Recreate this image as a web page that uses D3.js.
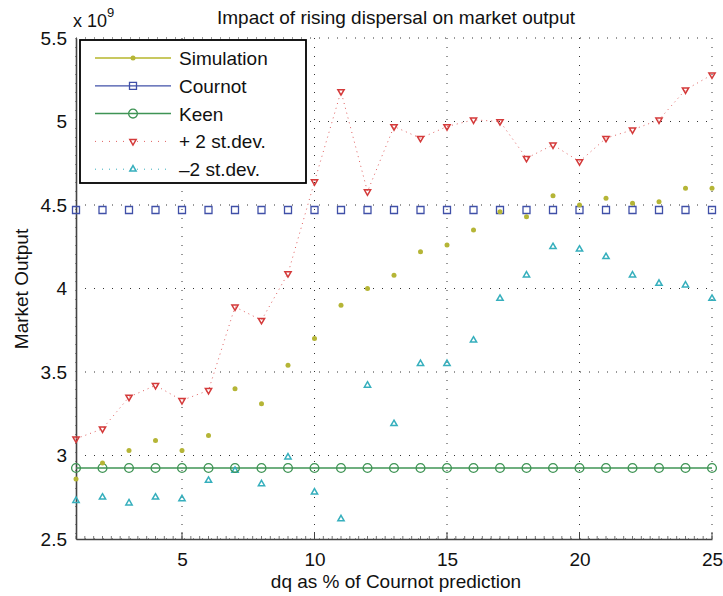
<!DOCTYPE html>
<html>
<head>
<meta charset="utf-8">
<script src="https://cdn.jsdelivr.net/npm/d3@7"></script>
<style>
  body { margin: 0; background: #fff; }
  svg text { font-family: "Liberation Sans", Arial, sans-serif; fill: #111; }
  .grid line { stroke: #333; stroke-width: 1; stroke-dasharray: 1 8; }
</style>
</head>
<body>
<svg id="chart" width="723" height="596"></svg>
<script>
const dq = d3.range(1, 26)
const simulation = [2.86, 2.955, 3.03, 3.09, 3.03, 3.12, 3.40, 3.31, 3.54, 3.70, 3.90, 4.00, 4.08, 4.22, 4.26, 4.35, 4.46, 4.43, 4.555, 4.50, 4.54, 4.51, 4.52, 4.60, 4.60]
const cournot = Array(25).fill(4.47)
const keen = Array(25).fill(2.925)
const plus2sd = [3.10, 3.16, 3.35, 3.42, 3.33, 3.39, 3.89, 3.81, 4.09, 4.64, 5.18, 4.58, 4.97, 4.90, 4.97, 5.01, 5.00, 4.78, 4.86, 4.76, 4.90, 4.95, 5.01, 5.19, 5.28]
const minus2sd = [2.73, 2.75, 2.715, 2.75, 2.74, 2.85, 2.91, 2.83, 2.99, 2.78, 2.62, 3.42, 3.19, 3.55, 3.55, 3.69, 3.94, 4.08, 4.25, 4.235, 4.19, 4.08, 4.03, 4.02, 3.94]
const xTicks = [5, 10, 15, 20, 25]
const yTicks = [2.5, 3, 3.5, 4, 4.5, 5, 5.5]
const legendLabels = ['Simulation', 'Cournot', 'Keen', '+ 2 st.dev.', '\u20132 st.dev.']

const svg = d3.select('#chart')
const margin = { top: 38, left: 76, bottom: 57, right: 11 }
const width = +svg.attr('width') - margin.left - margin.right
const height = +svg.attr('height') - margin.top - margin.bottom
const fontSize = 19

const x = d3.scaleLinear().domain([1, 25]).range([0, width])
const y = d3.scaleLinear().domain([2.5, 5.5]).range([height, 0])
const g = svg.append('g').attr('transform', `translate(${margin.left},${margin.top})`)

// dotted grid
const grid = g.append('g').classed('grid', true)
grid.selectAll('.vx').data(xTicks.concat([1])).join('line')
  .attr('x1', d => x(d)).attr('x2', d => x(d)).attr('y1', 0).attr('y2', height)
grid.selectAll('.hy').data(yTicks).join('line')
  .attr('x1', 0).attr('x2', width).attr('y1', d => y(d)).attr('y2', d => y(d))

// axes
const xAxis = d3.axisBottom(x).tickValues(xTicks).tickSize(0).tickPadding(14)
const gx = g.append('g').attr('transform', `translate(0,${height})`).call(xAxis)
gx.select('.domain').attr('stroke', '#444').attr('stroke-width', 1.6)
gx.selectAll('text').attr('font-size', fontSize)
gx.selectAll('.minor').data(d3.range(1, 25.01, 1 / 3)).join('line')
  .attr('x1', d => x(d)).attr('x2', d => x(d)).attr('y1', 0).attr('y2', -3)
  .attr('stroke', '#555').attr('stroke-width', 0.8)
gx.selectAll('.major').data(xTicks).join('line')
  .attr('x1', d => x(d)).attr('x2', d => x(d)).attr('y1', 0).attr('y2', -7)
  .attr('stroke', '#444').attr('stroke-width', 1)

const yAxis = d3.axisLeft(y).tickValues(yTicks).tickSize(0).tickPadding(9).tickFormat(d3.format('~g'))
const gy = g.append('g').call(yAxis)
gy.select('.domain').attr('stroke', '#444').attr('stroke-width', 1.6)
gy.selectAll('text').attr('font-size', fontSize)

// Keen line
g.append('path').datum(keen)
  .attr('d', d3.line().x((d, i) => x(dq[i])).y(d => y(d)))
  .attr('fill', 'none').attr('stroke', '#3f9455').attr('stroke-width', 1.5)
// +2 st.dev dotted line
g.append('path').datum(plus2sd)
  .attr('d', d3.line().x((d, i) => x(dq[i])).y(d => y(d)))
  .attr('fill', 'none').attr('stroke', '#e06060').attr('stroke-width', 1).attr('stroke-dasharray', '1 4')

const tri = d3.symbol().type(d3.symbolTriangle).size(17)
const square = d3.symbol().type(d3.symbolSquare).size(49)

function drawMarkers (sel, kind) {
  if (kind === 'sim') sel.append('circle').attr('r', 2.5).attr('fill', '#b5b536')
  if (kind === 'cournot') sel.append('path').attr('d', square).attr('fill', 'none').attr('stroke', '#4050a8').attr('stroke-width', 1.3)
  if (kind === 'keen') sel.append('circle').attr('r', 4.4).attr('fill', 'none').attr('stroke', '#3f9455').attr('stroke-width', 1.3)
  if (kind === 'plus') sel.append('path').attr('d', tri).attr('transform', 'rotate(180)').attr('fill', 'none').attr('stroke', '#d43a3a').attr('stroke-width', 1.5)
  if (kind === 'minus') sel.append('path').attr('d', tri).attr('fill', 'none').attr('stroke', '#36afbd').attr('stroke-width', 1.5)
}

const seriesList = [
  { kind: 'minus', values: minus2sd },
  { kind: 'keen', values: keen },
  { kind: 'cournot', values: cournot },
  { kind: 'sim', values: simulation },
  { kind: 'plus', values: plus2sd }
]
seriesList.forEach(s => {
  const pts = g.append('g').selectAll('g').data(s.values).join('g')
    .attr('transform', (d, i) => `translate(${x(dq[i])},${y(d)})`)
  drawMarkers(pts, s.kind)
})

// legend
const legend = svg.append('g').attr('transform', 'translate(80,40)')
legend.append('rect').attr('x', 0).attr('y', 0).attr('width', 226).attr('height', 143)
  .attr('fill', '#fff').attr('stroke', '#000').attr('stroke-width', 1.8)
const legendKinds = ['sim', 'cournot', 'keen', 'plus', 'minus']
const legendStroke = [
  { c: '#c8c860', w: 1.8, dash: null },
  { c: '#4050a8', w: 1.2, dash: null },
  { c: '#3f9455', w: 1.5, dash: null },
  { c: '#e06060', w: 1, dash: '1 6' },
  { c: '#36afbd', w: 1, dash: '1 6' }
]
legendLabels.forEach((label, i) => {
  const row = legend.append('g').attr('transform', `translate(0,${18 + i * 27.8})`)
  row.append('line').attr('x1', 15).attr('x2', 91).attr('y1', 0).attr('y2', 0)
    .attr('stroke', legendStroke[i].c).attr('stroke-width', legendStroke[i].w)
    .attr('stroke-dasharray', legendStroke[i].dash)
  drawMarkers(row.append('g').attr('transform', 'translate(53,0)'), legendKinds[i])
  row.append('text').attr('x', 99).attr('y', 7).attr('font-size', fontSize).text(label)
})

// title and labels
svg.append('text').attr('x', 396).attr('y', 24).attr('text-anchor', 'middle').attr('font-size', 19)
  .text('Impact of rising dispersal on market output')
const exp = svg.append('text').attr('x', 73).attr('y', 27).attr('font-size', 18)
exp.append('tspan').text('x 10')
exp.append('tspan').attr('dy', -10).attr('font-size', 13).text('9')
svg.append('text').attr('x', 396).attr('y', 588).attr('text-anchor', 'middle').attr('font-size', fontSize)
  .text('dq as % of Cournot prediction')
svg.append('text').attr('transform', 'translate(28,289) rotate(-90)').attr('text-anchor', 'middle').attr('font-size', fontSize)
  .text('Market Output')
</script>
</body>
</html>
